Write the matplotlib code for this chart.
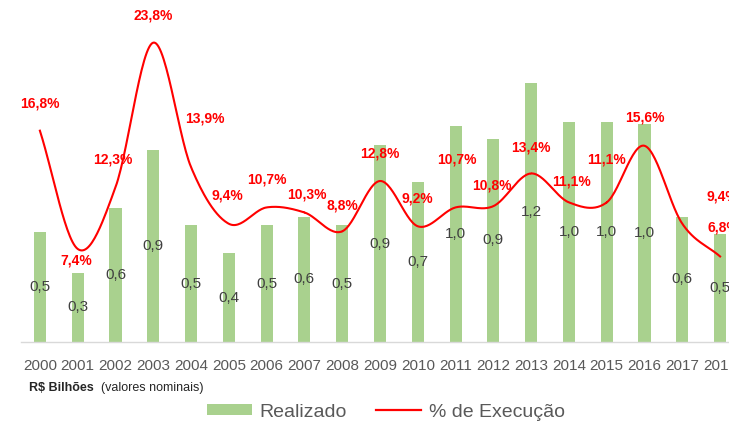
# Realizado (R$ bilhoes) x % de execucao, 2000-2018

import numpy as np
import matplotlib
matplotlib.use('Agg')
import matplotlib.pyplot as plt
from matplotlib.patches import Patch
from matplotlib.lines import Line2D

plt.rcParams['font.family'] = ['Liberation Sans', 'DejaVu Sans']

anos = ['2000', '2001', '2002', '2003', '2004', '2005', '2006', '2007', '2008', '2009',
        '2010', '2011', '2012', '2013', '2014', '2015', '2016', '2017', '2018']
realizado = [0.51, 0.32, 0.62, 0.89, 0.54, 0.41, 0.54, 0.58, 0.54, 0.91,
             0.74, 1.00, 0.94, 1.20, 1.02, 1.02, 1.01, 0.58, 0.50]
execucao = [16.8, 7.4, 12.3, 23.8, 13.9, 9.4, 10.7, 10.3, 8.8, 12.8,
            9.2, 10.7, 10.8, 13.4, 11.1, 11.1, 15.6, 9.4, 6.8]

# where each % label sits relative to its point (pixels, right / up)
lbl_off = [(0, 27), (-1, -12), (-3, 28), (0, 27), (14, 49), (-1, 28), (0, 28), (2, 18),
           (0, 26), (0, 28), (0, 28), (1, 48), (-1, 21), (0, 26), (3, 21), (0, 43),
           (0, 28), (40, 27), (3, 29)]

verde = '#a9d18e'
vermelho = '#ff0000'
cinza = '#595959'


def fmt(v, suf=''):
    return ('%.1f' % v).replace('.', ',') + suf


def suave(x, y, n=30):
    # catmull-rom, like excel "smoothed line"
    x = np.asarray(x, float)
    y = np.asarray(y, float)
    px = np.concatenate([[2 * x[0] - x[1]], x, [2 * x[-1] - x[-2]]])
    py = np.concatenate([[2 * y[0] - y[1]], y, [2 * y[-1] - y[-2]]])
    xs, ys = [], []
    t = np.linspace(0, 1, n)
    for i in range(1, len(px) - 2):
        for p, out in ((px, xs), (py, ys)):
            p0, p1, p2, p3 = p[i - 1], p[i], p[i + 1], p[i + 2]
            out.extend(0.5 * ((2 * p1) + (-p0 + p2) * t + (2 * p0 - 5 * p1 + 4 * p2 - p3) * t ** 2
                              + (-p0 + 3 * p1 - 3 * p2 + p3) * t ** 3))
    return np.array(xs), np.array(ys)


fig = plt.figure(figsize=(7.29, 4.23), dpi=100)
W, H = 729.0, 423.0
ax = fig.add_axes([21 / W, (H - 342) / H, (739 - 21) / W, (342 - 20) / H])
ax2 = ax.twinx()

ind = np.arange(len(anos))
bars = ax.bar(ind, realizado, 0.32, color=verde, zorder=2)
ax.set_xlim(-0.5, len(anos) - 0.5)
ax.set_ylim(0, 1.49)
ax2.set_ylim(0, 25.6)

for i, v in enumerate(realizado):
    ax.text(i, v / 2, fmt(v), ha='center', va='center', fontsize=11, color='#404040', zorder=3)

sx, sy = suave(ind, execucao)
ax2.plot(sx, sy, color=vermelho, lw=1.5, zorder=3)
for i, v in enumerate(execucao):
    dx, dy = lbl_off[i]
    ax2.annotate(fmt(v, '%'), (i, v), xytext=(dx * 0.72, dy * 0.72), textcoords='offset points',
                 ha='center', va='center', fontsize=10, fontweight='bold', color=vermelho)

for a in (ax, ax2):
    for s in ('top', 'right', 'left'):
        a.spines[s].set_visible(False)
    a.set_yticks([])
ax2.spines['bottom'].set_visible(False)
ax.spines['bottom'].set_color('#d9d9d9')
ax.spines['bottom'].set_linewidth(1.0)

ax.set_xticks(ind)
ax.set_xticklabels(anos)
ax.tick_params(axis='x', length=0, pad=12, labelsize=11, labelcolor=cinza)

fig.text(29 / W, 1 - 388 / H, 'R$ Bilhões', fontsize=9, fontweight='bold', color='#262626', va='center')
fig.text(101 / W, 1 - 388 / H, '(valores nominais)', fontsize=9, color='#262626', va='center')

handles = [Patch(facecolor=verde, edgecolor='none'), Line2D([], [], color=vermelho, lw=1.6)]
fig.legend(handles, ['Realizado', '% de Execução'], loc='center', bbox_to_anchor=(386 / W, 1 - 412 / H),
           ncol=2, frameon=False, fontsize=14, labelcolor=cinza, handlelength=2.3, handleheight=0.5,
           handletextpad=0.4, columnspacing=1.5)

plt.savefig('out.png', dpi=100)
